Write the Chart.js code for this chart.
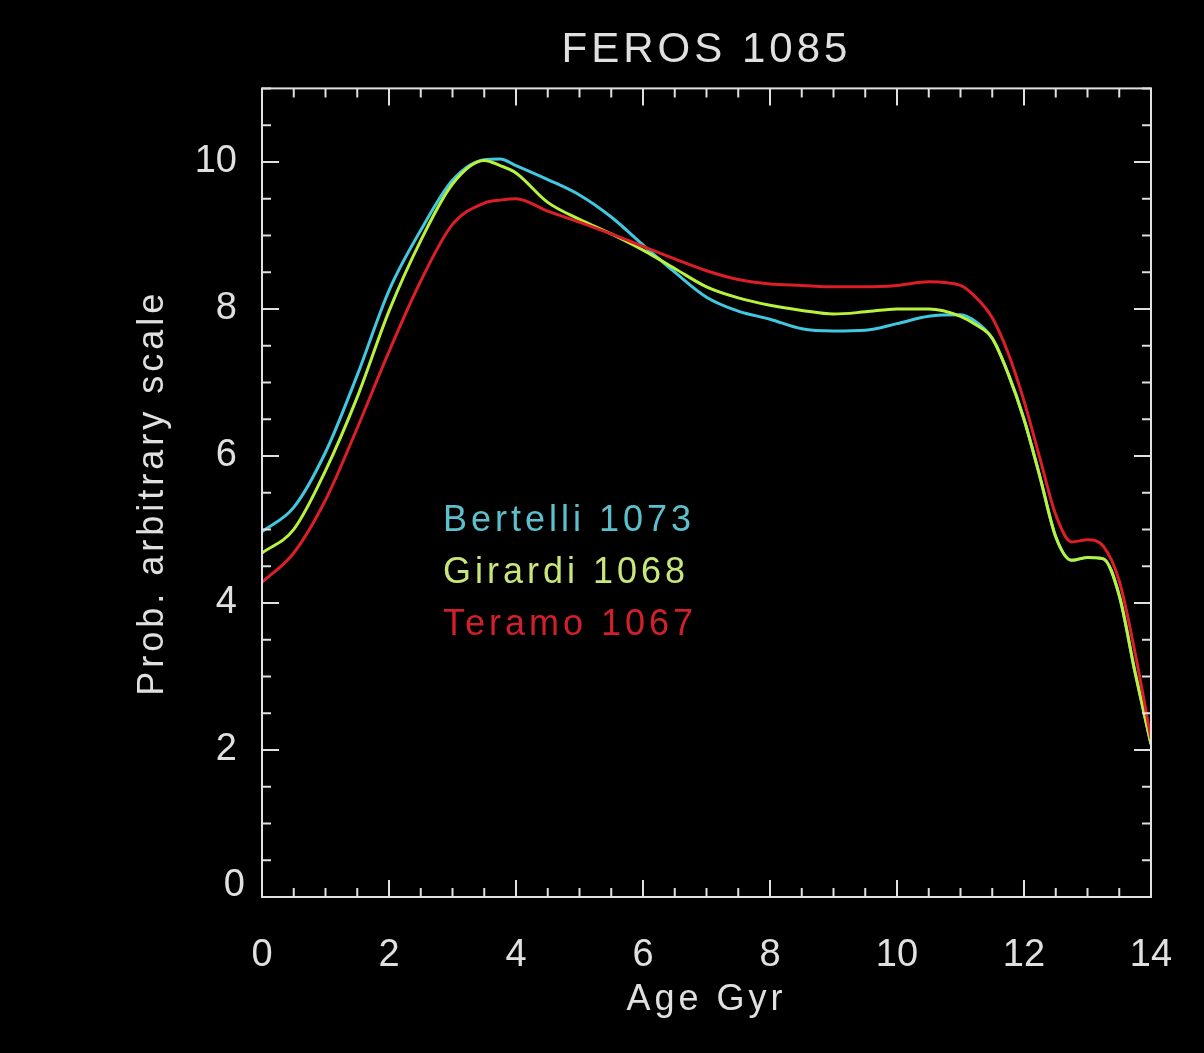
<!DOCTYPE html>
<html>
<head>
<meta charset="utf-8">
<title>FEROS 1085</title>
<script src="https://cdn.jsdelivr.net/npm/chart.js@4.4.1/dist/chart.umd.min.js"></script>
<style>
  html, body { margin: 0; padding: 0; background: #000; }
  #wrap { width: 1204px; height: 1053px; }
</style>
</head>
<body>
<div id="wrap"><canvas id="ageChart" width="1204" height="1053"></canvas></div>
<script>
// Ages (Gyr) where the probability curves are sampled
const ages = [0, 0.5, 1, 1.5, 2, 2.5, 3, 3.5, 3.75, 4, 4.5, 5, 5.5, 6, 6.5, 7, 7.5, 8, 8.5, 9, 9.5, 10, 10.5, 11, 11.25, 11.5, 11.75, 12, 12.25, 12.5, 12.75, 13, 13.25, 13.5, 13.75, 14];

// Probability (arbitrary scale) for each isochrone set
const bertelli = [4.97, 5.3, 6.05, 7.1, 8.25, 9.07, 9.75, 10.03, 10.04, 9.95, 9.76, 9.55, 9.25, 8.87, 8.5, 8.16, 7.97, 7.86, 7.73, 7.7, 7.71, 7.8, 7.9, 7.92, 7.82, 7.6, 7.12, 6.5, 5.72, 4.9, 4.58, 4.62, 4.6, 4.1, 3.05, 2.08];
const girardi = [4.68, 5.0, 5.8, 6.8, 7.97, 8.93, 9.7, 10.02, 9.95, 9.85, 9.45, 9.22, 9.02, 8.8, 8.55, 8.3, 8.15, 8.05, 7.98, 7.93, 7.96, 8.0, 8.0, 7.9, 7.78, 7.6, 7.12, 6.5, 5.72, 4.9, 4.58, 4.62, 4.6, 4.1, 3.05, 2.08];
const teramo = [4.28, 4.68, 5.4, 6.38, 7.42, 8.38, 9.15, 9.44, 9.48, 9.5, 9.33, 9.18, 9.02, 8.85, 8.68, 8.52, 8.4, 8.34, 8.32, 8.3, 8.3, 8.32, 8.37, 8.32, 8.15, 7.88, 7.4, 6.75, 5.97, 5.2, 4.83, 4.86, 4.77, 4.3, 3.32, 2.15];

const seriesNames = ["Bertelli 1073", "Girardi 1068", "Teramo 1067"];
const lineColors = ["#40c8e0", "#b8f23c", "#dc1e28"];
const labelColors = ["#5cc0cc", "#c8e67a", "#d0202a"];

const xTicks = [0, 2, 4, 6, 8, 10, 12, 14];
const yTicks = [0, 2, 4, 6, 8, 10];

const axisColor = "#e0e0e0";
const fontFamily = "'Liberation Sans', Arial, sans-serif";
const wideSpacing = "4px";

function toPoints(values) {
  return ages.map((a, i) => ({ x: a, y: values[i] }));
}

// run a draw call with wider letter spacing (the titles use a spread-out font)
function withSpacing(ctx, fn) {
  const old = ctx.letterSpacing;
  ctx.letterSpacing = wideSpacing;
  fn();
  ctx.letterSpacing = old;
}

function spaceScaleTitle(scale) {
  if (scale._spaced) return;
  const orig = scale.drawTitle.bind(scale);
  scale.drawTitle = () => withSpacing(scale.ctx, orig);
  scale._spaced = true;
}

// Box around the plot with IDL style inward ticks on all four sides
const frameTicks = {
  id: "frameTicks",
  beforeDraw(chart) {
    const tb = chart.titleBlock;
    if (tb && !tb._spaced) {
      const orig = tb.draw.bind(tb);
      tb.draw = () => withSpacing(chart.ctx, orig);
      tb._spaced = true;
    }
  },
  afterDatasetsDraw(chart) {
    const { ctx, chartArea: a, scales: { x, y } } = chart;
    ctx.save();
    ctx.strokeStyle = axisColor;
    ctx.lineWidth = 2;
    ctx.strokeRect(a.left, a.top, a.right - a.left, a.bottom - a.top);
    ctx.beginPath();
    for (let v = 0; v <= 14.001; v += 0.5) {
      const px = x.getPixelForValue(v);
      const len = v % 2 === 0 ? 17 : 9;
      ctx.moveTo(px, a.bottom); ctx.lineTo(px, a.bottom - len);
      ctx.moveTo(px, a.top); ctx.lineTo(px, a.top + len);
    }
    for (let v = 0; v <= 11.001; v += 0.5) {
      const py = y.getPixelForValue(v);
      const len = v % 2 === 0 ? 17 : 9;
      ctx.moveTo(a.left, py); ctx.lineTo(a.left + len, py);
      ctx.moveTo(a.right, py); ctx.lineTo(a.right - len, py);
    }
    ctx.stroke();

    // the zero label sits a little above its tick
    ctx.fillStyle = axisColor;
    ctx.font = "38px " + fontFamily;
    ctx.textAlign = "right";
    ctx.textBaseline = "middle";
    ctx.fillText("0", a.left - 17, y.getPixelForValue(0) - 11);

    // series labels
    ctx.font = "36px " + fontFamily;
    ctx.textAlign = "left";
    withSpacing(ctx, () => {
      seriesNames.forEach((name, i) => {
        ctx.fillStyle = labelColors[i];
        ctx.fillText(name, a.left + 181, a.top + 433 + i * 52);
      });
    });
    ctx.restore();
  }
};

const ctx = document.getElementById("ageChart").getContext("2d");
new Chart(ctx, {
  type: "line",
  data: {
    datasets: [bertelli, girardi, teramo].map((vals, i) => ({
      label: seriesNames[i],
      data: toPoints(vals),
      borderColor: lineColors[i],
      borderWidth: 3,
      pointRadius: 0,
      fill: false,
      cubicInterpolationMode: "monotone",
      order: 3 - i,
    })),
  },
  options: {
    responsive: false,
    animation: false,
    layout: { padding: { left: 0, right: 53, top: 0, bottom: 0 } },
    plugins: {
      legend: { display: false },
      tooltip: { enabled: false },
      title: {
        display: true,
        fullSize: false,
        text: "FEROS 1085",
        color: axisColor,
        font: { family: fontFamily, size: 42, weight: "normal" },
        padding: { top: 25, bottom: 13 },
      },
    },
    scales: {
      x: {
        type: "linear",
        min: 0,
        max: 14,
        afterFit: (s) => { s.height = 156; },
        afterUpdate: spaceScaleTitle,
        afterBuildTicks: (s) => { s.ticks = xTicks.map((v) => ({ value: v })); },
        grid: { display: false },
        border: { display: false },
        ticks: {
          color: axisColor,
          font: { family: fontFamily, size: 38 },
          padding: 28,
          maxRotation: 0,
        },
        title: {
          display: true,
          text: "Age Gyr",
          color: axisColor,
          font: { family: fontFamily, size: 36 },
          padding: { top: 0, bottom: 31 },
        },
      },
      y: {
        type: "linear",
        min: 0,
        max: 11,
        afterFit: (s) => { s.width = 262; },
        afterUpdate: spaceScaleTitle,
        afterBuildTicks: (s) => { s.ticks = yTicks.map((v) => ({ value: v })); },
        grid: { display: false },
        border: { display: false },
        ticks: {
          color: axisColor,
          font: { family: fontFamily, size: 38 },
          padding: 17,
          callback: (v) => (v === 0 ? "" : v),
        },
        title: {
          display: true,
          text: "Prob. arbitrary scale",
          color: axisColor,
          font: { family: fontFamily, size: 36 },
          padding: { top: 131, bottom: 0 },
        },
      },
    },
  },
  plugins: [frameTicks],
});
</script>
</body>
</html>
